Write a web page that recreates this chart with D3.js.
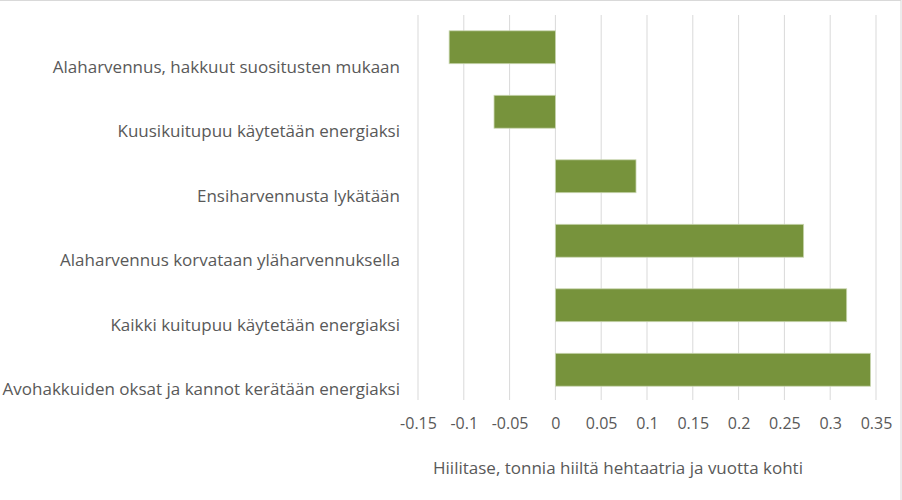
<!DOCTYPE html>
<html>
<head>
<meta charset="utf-8">
<script src="https://cdn.jsdelivr.net/npm/d3@7"></script>
<style>
  body { margin: 0; background: white; }
  text { font-family: "Open Sans", Lato, sans-serif; fill: #595959; }
</style>
</head>
<body>
<div id="myVis"></div>
<script>
// data
const categories = [
  "Alaharvennus, hakkuut suositusten mukaan",
  "Kuusikuitupuu käytetään energiaksi",
  "Ensiharvennusta lykätään",
  "Alaharvennus korvataan yläharvennuksella",
  "Kaikki kuitupuu käytetään energiaksi",
  "Avohakkuiden oksat ja kannot kerätään energiaksi"
]
const values = [-0.116, -0.067, 0.088, 0.271, 0.318, 0.344]
const tickValues = [-0.15, -0.1, -0.05, 0, 0.05, 0.1, 0.15, 0.2, 0.25, 0.3, 0.35]
const axisTitle = "Hiilitase, tonnia hiiltä hehtaatria ja vuotta kohti"

const width = 902, height = 500

const svg = d3.select("#myVis")
    .append("svg")
        .attr("width", width)
        .attr("height", height)
        .style("background-color", "white")

// chart frame (only top and right edges show in the crop)
svg.append("rect")
    .attr("x", -2).attr("y", 0.5)
    .attr("width", 903).attr("height", 520)
    .attr("fill", "none")
    .attr("stroke", "#d9d9d9")

const x = d3.scaleLinear().domain([-0.15, 0.35]).range([418, 876])
const y = d3.scaleBand().domain(categories).range([15, 402]).paddingInner(0.49).paddingOuter(0.245)

// gridlines
svg.append("g")
    .selectAll("line")
    .data(tickValues)
    .enter()
    .append("line")
        .attr("x1", d => x(d)).attr("x2", d => x(d))
        .attr("y1", 15).attr("y2", 400)
        .attr("stroke", "#d9d9d9")
        .attr("stroke-width", 1)

// bars
svg.append("g")
    .selectAll("rect")
    .data(values)
    .enter()
    .append("rect")
        .attr("x", d => x(Math.min(0, d)))
        .attr("y", (d, i) => y(categories[i]))
        .attr("width", d => Math.abs(x(d) - x(0)))
        .attr("height", y.bandwidth())
        .attr("fill", "#77933c")
        .attr("stroke", "#c9d6b0")
        .attr("stroke-width", 0.8)

// category labels
svg.append("g")
    .selectAll("text")
    .data(categories)
    .enter()
    .append("text")
        .attr("x", 400)
        .attr("y", d => y(d) + y.bandwidth() / 2 + 21)
        .attr("text-anchor", "end")
        .attr("dominant-baseline", "middle")
        .style("font-size", "17px")
        .text(d => d)

// x axis tick labels
const xAxis = d3.axisBottom(x).tickValues(tickValues).tickSize(0).tickPadding(0)
    .tickFormat(d => String(+d.toFixed(2)))
const gx = svg.append("g")
    .attr("transform", "translate(0,418)")
    .call(xAxis)
gx.select(".domain").remove()
gx.selectAll("text")
    .style("font-size", "16px")
    .style("font-family", "'Open Sans', Lato, sans-serif")
    .attr("fill", "#595959")

// axis title
svg.append("text")
    .attr("x", 618)
    .attr("y", 474)
    .attr("text-anchor", "middle")
    .style("font-size", "17px")
    .text(axisTitle)
</script>
</body>
</html>
